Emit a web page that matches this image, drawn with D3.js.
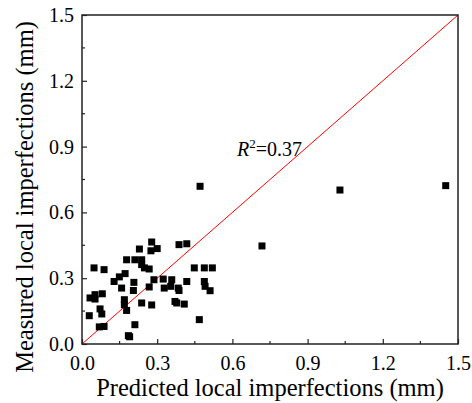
<!DOCTYPE html>
<html><head><meta charset="utf-8">
<script src="https://cdn.jsdelivr.net/npm/d3@7"></script>
<style>body{margin:0;background:#fff}text{font-family:"Liberation Serif","Times New Roman",serif}</style>
</head><body>
<svg id="c" width="472" height="403"></svg>
<script>
const predicted = [0.048,0.088,0.278,0.300,0.275,0.229,0.387,0.418,0.178,0.211,0.238,0.238,0.249,0.268,0.448,0.488,0.520,0.172,0.149,0.128,0.158,0.207,0.205,0.287,0.324,0.358,0.268,0.328,0.354,0.384,0.387,0.418,0.488,0.491,0.511,0.052,0.032,0.081,0.052,0.169,0.169,0.238,0.278,0.371,0.378,0.408,0.072,0.079,0.178,0.029,0.069,0.088,0.211,0.468,0.185,0.190,0.471,1.029,1.451,0.718];
const measured  = [0.347,0.339,0.465,0.435,0.425,0.433,0.453,0.457,0.384,0.384,0.384,0.362,0.347,0.342,0.347,0.347,0.347,0.321,0.306,0.285,0.255,0.281,0.244,0.293,0.296,0.293,0.260,0.255,0.263,0.255,0.244,0.285,0.285,0.263,0.243,0.225,0.210,0.229,0.205,0.202,0.179,0.187,0.178,0.194,0.187,0.182,0.160,0.137,0.153,0.129,0.078,0.080,0.088,0.111,0.038,0.033,0.719,0.702,0.722,0.447];
const majorTicks = [0.0,0.3,0.6,0.9,1.2,1.5];
const tickLabels = ["0.0","0.3","0.6","0.9","1.2","1.5"];
const minorTicks = [0.15,0.45,0.75,1.05,1.35];
const fitLine = [[0,0],[1.5,1.5]];
const annotation = {r2: "0.37"};

const svg = d3.select("#c");
const L=82,R=458,T=15,B=344;
const x = d3.scaleLinear().domain([0,1.5]).range([L,R]);
const y = d3.scaleLinear().domain([0,1.5]).range([B,T]);
const FONT = "Liberation Serif";

svg.append("path").attr("d", d3.line().x(d=>x(d[0])).y(d=>y(d[1]))(fitLine))
  .attr("stroke","#ff0000").attr("stroke-width",1).attr("fill","none");

svg.append("g").selectAll("rect").data(predicted.map((p,i)=>[p,measured[i]])).join("rect")
  .attr("x",d=>x(d[0])-3.5).attr("y",d=>y(d[1])-3.5).attr("width",7).attr("height",7)
  .attr("fill","#000");

svg.append("rect").attr("x",L).attr("y",T).attr("width",R-L).attr("height",B-T)
  .attr("fill","none").attr("stroke","#222").attr("stroke-width",1.5);

const xAxis = d3.axisBottom(x).tickValues(majorTicks).tickFormat((d,i)=>tickLabels[i]).tickSizeInner(-5).tickSizeOuter(0).tickPadding(12);
const gx = svg.append("g").attr("transform",`translate(0,${B})`).call(xAxis);
const yAxis = d3.axisLeft(y).tickValues(majorTicks).tickFormat((d,i)=>tickLabels[i]).tickSizeInner(-5).tickSizeOuter(0).tickPadding(8);
const gy = svg.append("g").attr("transform",`translate(${L},0)`).call(yAxis);
[gx,gy].forEach(g=>{
  g.attr("font-family",FONT).attr("font-size",20);
  g.select(".domain").remove();
  g.selectAll("line").attr("stroke","#222").attr("stroke-width",1.2);
  g.selectAll("text").attr("fill","#000");
});
gx.append("g").selectAll("line").data(minorTicks).join("line")
  .attr("x1",d=>x(d)).attr("x2",d=>x(d)).attr("y1",0).attr("y2",-3).attr("stroke","#222").attr("stroke-width",1.2);
gy.append("g").selectAll("line").data(minorTicks).join("line")
  .attr("y1",d=>y(d)).attr("y2",d=>y(d)).attr("x1",0).attr("x2",3).attr("stroke","#222").attr("stroke-width",1.2);

svg.append("text").attr("x",270).attr("y",396).attr("text-anchor","middle")
  .attr("font-family",FONT).attr("font-size",24.5).text("Predicted local imperfections (mm)");
svg.append("text").attr("transform",`translate(33,197) rotate(-90)`).attr("text-anchor","middle")
  .attr("font-family",FONT).attr("font-size",24.5).text("Measured local imperfections (mm)");

const ann = svg.append("text").attr("x",237).attr("y",156).attr("font-size",20).attr("font-family",FONT);
ann.append("tspan").attr("font-style","italic").text("R");
ann.append("tspan").attr("font-size",13).attr("dy",-8).text("2");
ann.append("tspan").attr("dy",8).text("=" + annotation.r2);
</script>
</body></html>
